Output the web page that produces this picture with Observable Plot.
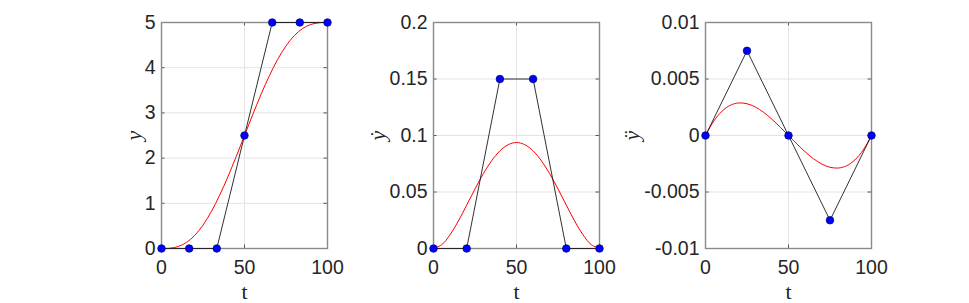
<!DOCTYPE html>
<html>
<head>
<meta charset="utf-8">
<script src="https://cdn.jsdelivr.net/npm/d3@7"></script>
<script src="https://cdn.jsdelivr.net/npm/@observablehq/plot@0.6"></script>
<style>
  html, body { margin: 0; padding: 0; background: #fff; }
  #wrap { position: relative; width: 969px; height: 303px; overflow: hidden; background: #fff; }
  svg { overflow: visible; }
</style>
</head>
<body>
<div id="wrap"></div>
<script>
// ---- data ----
const curveT = [0, 5, 10, 15, 20, 25, 30, 35, 40, 45, 50, 55, 60, 65, 70, 75, 80, 85, 90, 95, 100];
const posCurve = [0, 0.006, 0.043, 0.133, 0.290, 0.518, 0.815, 1.176, 1.587, 2.034, 2.5, 2.966, 3.413, 3.824, 4.185, 4.482, 4.710, 4.867, 4.957, 4.994, 5];
const velCurve = [0, 0.0034, 0.0122, 0.0244, 0.0384, 0.0527, 0.0662, 0.0776, 0.0864, 0.0919, 0.0938, 0.0919, 0.0864, 0.0776, 0.0662, 0.0527, 0.0384, 0.0244, 0.0122, 0.0034, 0];
const accCurve = [0, 0.00128, 0.00216, 0.00268, 0.00288, 0.00281, 0.00252, 0.00205, 0.00144, 0.00074, 0, -0.00074, -0.00144, -0.00205, -0.00252, -0.00281, -0.00288, -0.00268, -0.00216, -0.00128, 0];

const posT = [0, 16.7, 33.3, 50, 66.7, 83.3, 100];
const posY = [0, 0, 0, 2.5, 5, 5, 5];
const velT = [0, 20, 40, 60, 80, 100];
const velY = [0, 0, 0.15, 0.15, 0, 0];
const accT = [0, 25, 50, 75, 100];
const accY = [0, 0.0075, 0, -0.0075, 0];

const xTicks = [0, 50, 100];
const posTicks = [0, 1, 2, 3, 4, 5];
const velTicks = [0, 0.05, 0.1, 0.15, 0.2];
const accTicks = [-0.01, -0.005, 0, 0.005, 0.01];

const yLabels = ["y", "\u1E8F", "\u00FF"];
const xLabel = "t";

// ---- layout ----
const W = 969, H = 303;
const frameW = 166, mTop = 22, mBottom = 55, mLeft = 90, mRight = 20;
const panels = [
  {left: 161, t: posT, y: posY, curve: posCurve, domain: [0, 5], ticks: posTicks, label: yLabels[0], labelDx: -28},
  {left: 433, t: velT, y: velY, curve: velCurve, domain: [0, 0.2], ticks: velTicks, label: yLabels[1], labelDx: -56},
  {left: 705, t: accT, y: accY, curve: accCurve, domain: [-0.01, 0.01], ticks: accTicks, label: yLabels[2], labelDx: -74}
];

const tickFont = "'Liberation Sans', Arial, Helvetica, sans-serif";
const serif = "'Liberation Serif', 'Times New Roman', serif";
const wrap = document.getElementById("wrap");

panels.forEach(p => {
  const pts = p.t.map((t, i) => ({t, v: p.y[i]}));
  const crv = curveT.map((t, i) => ({t, v: p.curve[i]}));
  const [y0, y1] = p.domain;
  const tkX = 100 * 3.5 / frameW;
  const tkY = (y1 - y0) * 3.5 / (H - mTop - mBottom);
  const chart = Plot.plot({
    width: mLeft + frameW + mRight,
    height: H,
    marginTop: mTop,
    marginBottom: mBottom,
    marginLeft: mLeft,
    marginRight: mRight,
    style: {fontFamily: tickFont, background: "transparent", overflow: "visible"},
    x: {domain: [0, 100], ticks: xTicks},
    y: {domain: p.domain, ticks: p.ticks},
    marks: [
      Plot.gridX(xTicks, {stroke: "#e3e3e3", strokeOpacity: 1}),
      Plot.gridY(p.ticks, {stroke: "#e3e3e3", strokeOpacity: 1}),
      Plot.ruleY(p.ticks, {x1: 0, x2: tkX, stroke: "#555"}),
      Plot.ruleY(p.ticks, {x1: 100 - tkX, x2: 100, stroke: "#555"}),
      Plot.ruleX(xTicks, {y1: y0, y2: y0 + tkY, stroke: "#555"}),
      Plot.ruleX(xTicks, {y1: y1 - tkY, y2: y1, stroke: "#555"}),
      Plot.frame({stroke: "#8a8a8a", strokeWidth: 1.4}),
      Plot.axisX(xTicks, {tickSize: 0, tickPadding: 12, fontSize: 19.5, fill: "#262626", label: null, tickFormat: d => String(d)}),
      Plot.axisY(p.ticks, {tickSize: 0, tickPadding: 6, fontSize: 19.5, fill: "#262626", label: null, tickFormat: d => String(d)}),
      Plot.line(crv, {x: "t", y: "v", stroke: "#ff0000", strokeWidth: 1, curve: "catmull-rom"}),
      Plot.line(pts, {x: "t", y: "v", stroke: "#1a1a1a", strokeWidth: 0.9}),
      Plot.dot(pts, {x: "t", y: "v", r: 3.8, fill: "#0000ff", stroke: "#00006e", strokeWidth: 0.7}),
      Plot.text([p.label], {text: d => d, frameAnchor: "left", textAnchor: "middle", lineAnchor: "middle", dx: p.labelDx, rotate: -90, fontFamily: serif, fontStyle: "italic", fontSize: 22, fill: "#262626"}),
      Plot.text([xLabel], {text: d => d, frameAnchor: "bottom", textAnchor: "middle", lineAnchor: "middle", dy: 43, fontFamily: serif, fontSize: 22, fill: "#262626"})
    ]
  });
  chart.style.position = "absolute";
  chart.style.left = (p.left - mLeft) + "px";
  chart.style.top = "0px";
  wrap.appendChild(chart);
});
</script>
</body>
</html>
